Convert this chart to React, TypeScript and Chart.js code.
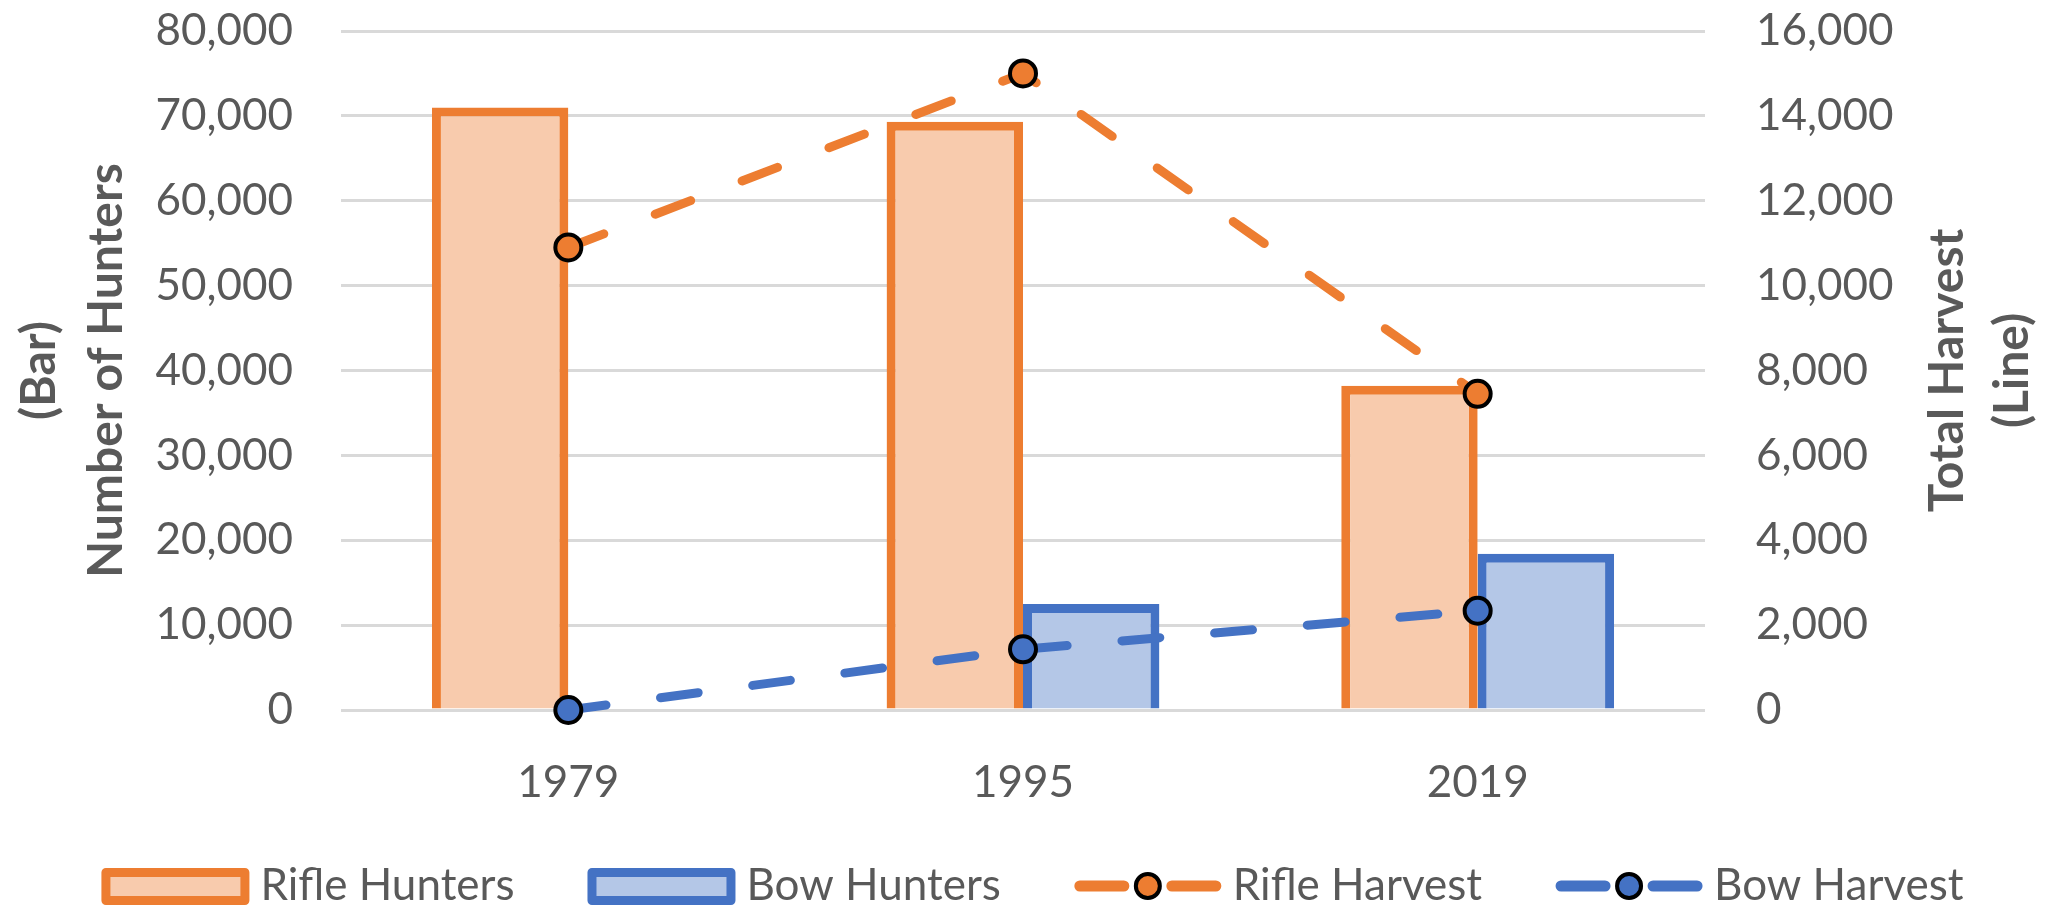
import React, { useEffect, useRef } from 'react';
import { Chart, registerables } from 'chart.js';

Chart.register(...registerables);

// ---- data ----
const categories = ['1979', '1995', '2019'];
const rifleHunters = [71000, 69300, 38200];
const bowHunters = [0, 12500, 18400];
const rifleHarvest = [10900, 15000, 7450];
const bowHarvest = [0, 1430, 2340];
const seriesLabels = ['Rifle Hunters', 'Bow Hunters', 'Rifle Harvest', 'Bow Harvest'];
const leftAxisTitle = ['(Bar)', 'Number of Hunters'];
const rightAxisTitle = ['Total Harvest', '(Line)'];
const leftAxisRange = [0, 80000, 10000];
const rightAxisRange = [0, 16000, 2000];

// ---- styles ----
const ORANGE = '#ED7D31';
const ORANGE_FILL = '#F8CBAD';
const BLUE = '#4472C4';
const BLUE_FILL = '#B4C7E7';
const TEXT = '#595959';
const GRID = '#D9D9D9';
const FONT = 'Lato';

const fmt = (v: number) => Number(v).toLocaleString('en-US');

const axisTitlePlugin = {
  id: 'axisTitlePlugin',
  afterDraw(chart: any) {
    const { ctx, chartArea: a } = chart;
    const cy = (a.top + a.bottom) / 2;
    ctx.save();
    ctx.fillStyle = TEXT;
    ctx.font = `bold 48px ${FONT}`;
    ctx.textAlign = 'center';
    ctx.textBaseline = 'alphabetic';
    const draw = (t: string, x: number) => {
      ctx.save();
      ctx.translate(x, cy);
      ctx.rotate(-Math.PI / 2);
      ctx.fillText(t, 0, 0);
      ctx.restore();
    };
    draw(leftAxisTitle[0], a.left - 286);
    draw(leftAxisTitle[1], a.left - 219);
    draw(rightAxisTitle[0], a.right + 258);
    draw(rightAxisTitle[1], a.right + 323);
    ctx.restore();
  },
};

const legendPlugin = {
  id: 'customLegend',
  afterDraw(chart: any) {
    const { ctx } = chart;
    const ds = chart.data.datasets;
    ctx.save();
    ctx.font = `44px ${FONT}`;
    const symW = 148;
    const gapT = 11;
    const gapI = 73;
    const widths = ds.map((d: any) => ctx.measureText(d.label).width);
    let total = 0;
    widths.forEach((w: number) => (total += symW + gapT + w));
    total += gapI * (ds.length - 1);
    let x = chart.width / 2 + 7 - total / 2;
    const y = chart.height - 21;
    ds.forEach((d: any, i: number) => {
      if (d.type === 'bar') {
        const lw = 9;
        ctx.lineJoin = 'round';
        ctx.fillStyle = d.backgroundColor;
        ctx.fillRect(x + lw / 2, y - 18 + lw / 2, symW - lw, 37 - lw);
        ctx.strokeStyle = d.borderColor;
        ctx.lineWidth = lw;
        ctx.strokeRect(x + lw / 2, y - 18 + lw / 2, symW - lw, 37 - lw);
      } else {
        ctx.strokeStyle = d.borderColor;
        ctx.lineWidth = 11;
        ctx.lineCap = 'round';
        ctx.setLineDash([]);
        ctx.beginPath();
        ctx.moveTo(x + 6, y);
        ctx.lineTo(x + 50, y);
        ctx.moveTo(x + 98, y);
        ctx.lineTo(x + 142, y);
        ctx.stroke();
        ctx.beginPath();
        ctx.arc(x + 74, y, 12, 0, Math.PI * 2);
        ctx.fillStyle = d.pointBackgroundColor;
        ctx.fill();
        ctx.lineWidth = 4;
        ctx.strokeStyle = '#000';
        ctx.stroke();
      }
      ctx.fillStyle = TEXT;
      ctx.textAlign = 'left';
      ctx.textBaseline = 'middle';
      ctx.fillText(d.label, x + symW + gapT, y);
      x += symW + gapT + widths[i] + gapI;
    });
    ctx.restore();
  },
};

export default function App() {
  const ref = useRef<HTMLCanvasElement>(null);

  useEffect(() => {
    document.body.style.margin = '0';
    const lineCommon = {
      type: 'line' as const,
      yAxisID: 'y1',
      borderWidth: 9,
      borderDash: [38, 55],
      borderCapStyle: 'round' as const,
      borderJoinStyle: 'round' as const,
      pointRadius: 13,
      pointHoverRadius: 13,
      pointBorderWidth: 4,
      pointBorderColor: '#000',
      tension: 0,
      fill: false,
      clip: false as any,
      order: 1,
    };
    const fixY = (w: number) => (s: any) => {
      s.width = w;
      s.paddingTop = 0;
      s.paddingBottom = 0;
    };
    const chart = new Chart(ref.current as HTMLCanvasElement, {
      type: 'bar',
      data: {
        labels: categories,
        datasets: [
          {
            type: 'bar',
            label: seriesLabels[0],
            data: rifleHunters,
            backgroundColor: ORANGE_FILL,
            borderColor: ORANGE,
            borderWidth: 9,
            yAxisID: 'y',
            order: 2,
          },
          {
            type: 'bar',
            label: seriesLabels[1],
            data: bowHunters,
            backgroundColor: BLUE_FILL,
            borderColor: BLUE,
            borderWidth: 9,
            yAxisID: 'y',
            order: 2,
          },
          {
            ...lineCommon,
            label: seriesLabels[2],
            data: rifleHarvest,
            borderColor: ORANGE,
            backgroundColor: ORANGE,
            pointBackgroundColor: ORANGE,
          },
          {
            ...lineCommon,
            label: seriesLabels[3],
            data: bowHarvest,
            borderColor: BLUE,
            backgroundColor: BLUE,
            pointBackgroundColor: BLUE,
          },
        ] as any,
      },
      options: {
        responsive: false,
        animation: false,
        devicePixelRatio: 1,
        layout: { padding: { top: 31, left: 0, right: 0, bottom: 0 } },
        datasets: { bar: { categoryPercentage: 0.6, barPercentage: 1.0 } },
        plugins: {
          legend: { display: false },
          tooltip: { enabled: false },
          title: { display: false },
        },
        scales: {
          x: {
            grid: { display: false },
            border: { display: false },
            ticks: {
              color: TEXT,
              font: { family: FONT, size: 44 },
              padding: 38,
            },
            afterFit: (s: any) => {
              s.height = 197;
              s.paddingLeft = 0;
              s.paddingRight = 0;
            },
          },
          y: {
            position: 'left',
            min: leftAxisRange[0],
            max: leftAxisRange[1],
            grid: { color: GRID, lineWidth: 3, drawTicks: false },
            border: { display: false },
            ticks: {
              stepSize: leftAxisRange[2],
              color: TEXT,
              font: { family: FONT, size: 44 },
              padding: 48,
              callback: (v: any) => fmt(v),
            },
            afterFit: fixY(341),
          },
          y1: {
            position: 'right',
            min: rightAxisRange[0],
            max: rightAxisRange[1],
            grid: { drawOnChartArea: false, drawTicks: false },
            border: { display: false },
            ticks: {
              stepSize: rightAxisRange[2],
              color: TEXT,
              font: { family: FONT, size: 44 },
              padding: 51,
              callback: (v: any) => fmt(v),
            },
            afterFit: fixY(346),
          },
        },
      } as any,
      plugins: [axisTitlePlugin, legendPlugin],
    });
    return () => chart.destroy();
  }, []);

  return (
    <div style={{ width: 2051, height: 907 }}>
      <canvas ref={ref} width={2051} height={907} />
    </div>
  );
}
